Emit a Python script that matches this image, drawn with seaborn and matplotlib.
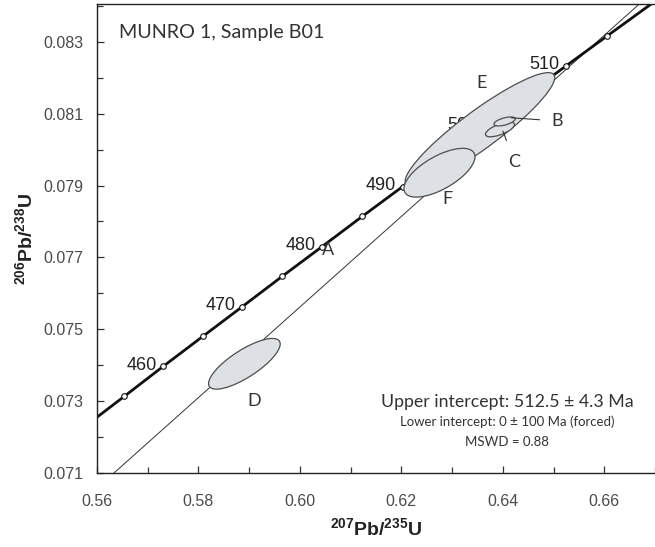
import matplotlib.pyplot as plt
from matplotlib.patches import Ellipse
from matplotlib.transforms import Affine2D
import numpy as np
import seaborn as sns

# concordia ages (Ma) and their ratios
ages = [450, 455, 460, 465, 470, 475, 480, 485, 490, 495, 500, 505, 510, 515, 520, 525]
conc_207_235 = [0.55766, 0.56535, 0.57307, 0.58084, 0.58864, 0.59648, 0.60436, 0.61228,
                0.62024, 0.62824, 0.63628, 0.64436, 0.65247, 0.66063, 0.66883, 0.67707]
conc_206_238 = [0.07230, 0.07313, 0.07397, 0.07480, 0.07563, 0.07647, 0.07730, 0.07814,
                0.07897, 0.07981, 0.08065, 0.08149, 0.08233, 0.08317, 0.08401, 0.08485]
marked_ages = [455, 460, 465, 470, 475, 480, 485, 490, 495, 500, 505, 510, 515]
labelled_ages = [460, 470, 480, 490, 500, 510]

# discordia: lower intercept (forced 0) and upper intercept 512.5 Ma
discordia_x = [0.0, 0.65655]
discordia_y = [0.0, 0.082747]

# spot analyses: 207Pb/235U, err, 206Pb/238U, err, rho
spots = ["E", "F", "D", "C", "B"]
spot_x = [0.63549, 0.62751, 0.58905, 0.63944, 0.64035]
spot_sx = [0.014745, 0.007004, 0.007063, 0.00286, 0.0021]
spot_y = [0.080562, 0.079357, 0.074039, 0.080562, 0.080784]
spot_sy = [0.001581, 0.000679, 0.000706, 0.000205, 0.000125]
spot_rho = [0.9127, 0.653, 0.78, 0.66, 0.58]

sns.set_theme(style="ticks")
plt.rcParams["font.family"] = ["Liberation Sans", "DejaVu Sans"]
plt.rcParams["mathtext.fontset"] = "custom"
plt.rcParams["mathtext.rm"] = "Liberation Sans"
plt.rcParams["mathtext.bf"] = "Liberation Sans:bold"

label_font = ["Lato", "DejaVu Sans"]

fig = plt.figure(figsize=(6.55, 5.47), dpi=100)
ax = fig.add_axes([0.1481, 0.1353, 0.8519, 0.8574])

# discordia line (thin)
ax.axline((discordia_x[0], discordia_y[0]), (discordia_x[1], discordia_y[1]),
          color="#333333", linewidth=0.7, zorder=1)

# concordia curve
sns.lineplot(x=conc_207_235, y=conc_206_238, sort=False, estimator=None,
             color="#111111", linewidth=2.0, ax=ax, zorder=2)

dot_x = [cx for a, cx in zip(ages, conc_207_235) if a in marked_ages]
dot_y = [cy for a, cy in zip(ages, conc_206_238) if a in marked_ages]
sns.scatterplot(x=dot_x, y=dot_y, marker="o", s=16,
                facecolor="white", edgecolor="#111111", linewidth=0.8,
                ax=ax, zorder=2.5)

for age, cx, cy in zip(ages, conc_207_235, conc_206_238):
    if age in labelled_ages:
        ax.annotate(str(age), (cx, cy), xytext=(-4.5, -2.5), textcoords="offset points",
                    ha="right", va="baseline", fontsize=13, color="#222222", zorder=2)

# error ellipses
for name, x, sx, y, sy, rho in zip(spots, spot_x, spot_sx, spot_y, spot_sy, spot_rho):
    l11 = sx
    l21 = rho * sy
    l22 = sy * np.sqrt(1 - rho ** 2)
    tr = Affine2D().from_values(l11, l21, 0, l22, x, y) + ax.transData
    e = Ellipse((0, 0), 2, 2, facecolor="#dde0e4", edgecolor="#4d4d4d",
                linewidth=0.9, transform=tr, zorder=3)
    ax.add_patch(e)

# spot letters
letter_kw = dict(fontsize=13, color="#333333", family=label_font, ha="center", va="center", zorder=4)
ax.text(0.63582, 0.081864, "E", **letter_kw)
ax.text(0.62901, 0.078623, "F", **letter_kw)
ax.text(0.59107, 0.073008, "D", **letter_kw)
ax.text(0.60553, 0.077197, "A", **letter_kw)
ax.annotate("B", xy=(0.64167, 0.080886), xytext=(0.65066, 0.080798),
            arrowprops=dict(arrowstyle="-", color="#333333", lw=0.8,
                            shrinkA=6, shrinkB=0), **letter_kw)
ax.annotate("C", xy=(0.64002, 0.080515), xytext=(0.64230, 0.079648),
            arrowprops=dict(arrowstyle="-", color="#333333", lw=0.8,
                            shrinkA=8, shrinkB=0), **letter_kw)

ax.text(0.0394, 0.9275, "MUNRO 1, Sample B01", transform=ax.transAxes,
        fontsize=14.2, family=label_font, color="#333333", va="baseline", ha="left")

ax.text(0.7348, 0.152, "Upper intercept: 512.5 ± 4.3 Ma", transform=ax.transAxes,
        fontsize=12.8, family=label_font, color="#333333", ha="center", va="center")
ax.text(0.7348, 0.1094, "Lower intercept: 0 ± 100 Ma (forced)", transform=ax.transAxes,
        fontsize=9.5, family=label_font, color="#333333", ha="center", va="center")
ax.text(0.7348, 0.0667, "MSWD = 0.88", transform=ax.transAxes,
        fontsize=9.5, family=label_font, color="#333333", ha="center", va="center")

ax.set_xlim(0.56, 0.66856)
ax.set_ylim(0.071, 0.084053)
ax.set_xticks(np.arange(0.56, 0.661, 0.02))
ax.set_xticks(np.arange(0.57, 0.671, 0.02), minor=True)
ax.set_yticks(np.arange(0.071, 0.0835, 0.002))
ax.set_yticks(np.arange(0.072, 0.0845, 0.002), minor=True)
ax.set_xticklabels([f"{v:.2f}" for v in np.arange(0.56, 0.661, 0.02)])
ax.set_yticklabels([f"{v:.3f}" for v in np.arange(0.071, 0.0835, 0.002)])
ax.tick_params(which="both", direction="in", color="#333333", width=0.9)
ax.tick_params(which="major", length=5, labelsize=11.5, labelcolor="#4a4a4a")
ax.tick_params(which="minor", length=4)
ax.tick_params(axis="x", which="major", pad=15)
ax.tick_params(axis="y", which="major", pad=10)

for side in ["left", "bottom", "top"]:
    ax.spines[side].set_color("#222222")
    ax.spines[side].set_linewidth(1.0)
ax.spines["right"].set_visible(False)

ax.set_xlabel(r"$\mathbf{^{207}Pb/^{235}U}$", fontsize=14, color="#222222", labelpad=6)
ax.set_ylabel(r"$\mathbf{^{206}Pb/^{238}U}$", fontsize=14, color="#222222", labelpad=5)

fig.savefig("out.png", dpi=100)
